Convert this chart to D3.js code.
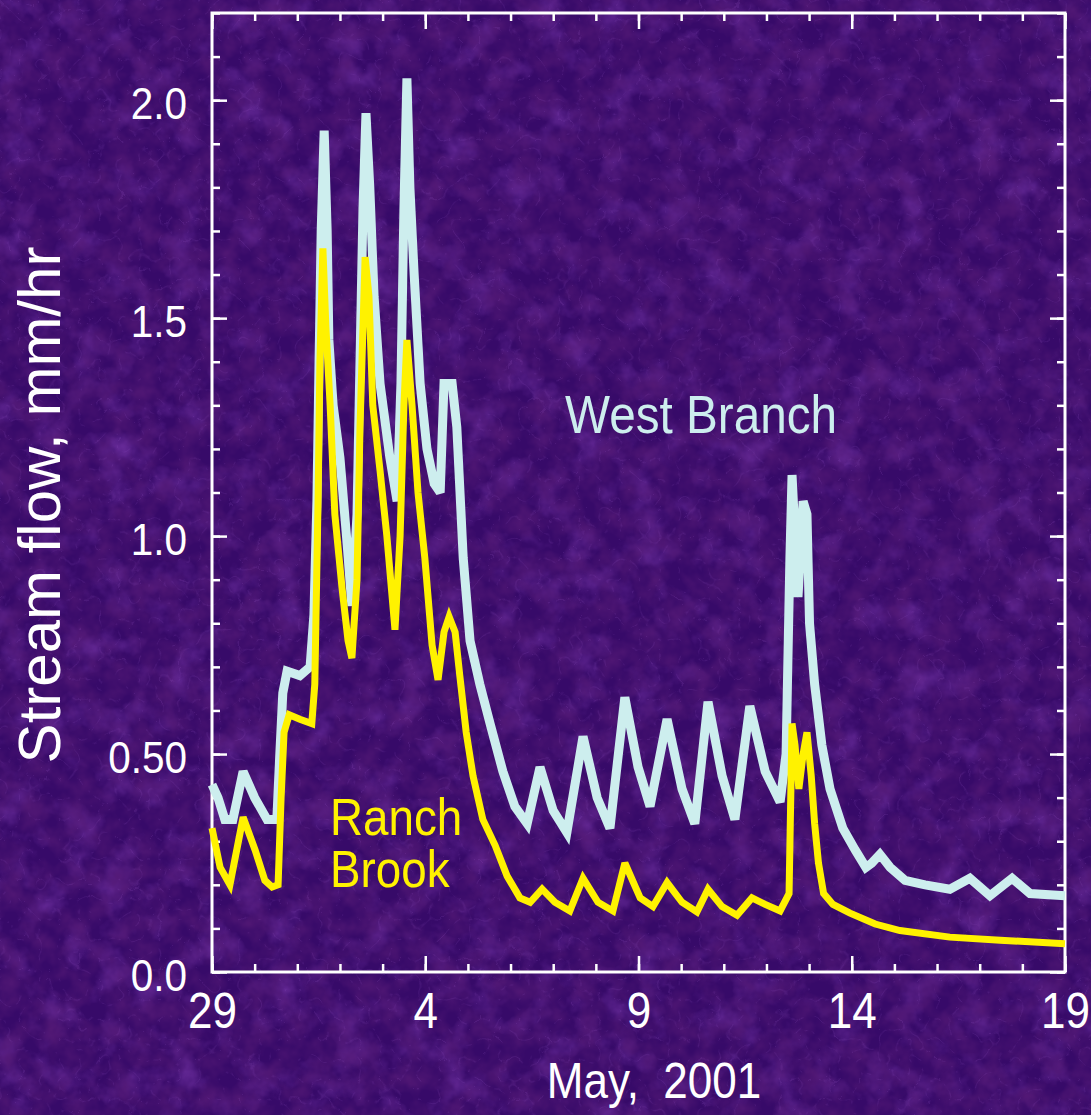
<!DOCTYPE html>
<html>
<head>
<meta charset="utf-8">
<script src="https://cdnjs.cloudflare.com/ajax/libs/d3/7.8.5/d3.min.js"></script>
<style>
  body { margin: 0; background: #350a66; }
  svg { display: block; }
  text { font-family: "Liberation Sans", Arial, Helvetica, sans-serif; }
</style>
</head>
<body>
<script>
// Values: days after 29 April 2001, stream flow in mm/hr
const westDays = [0, 0.14, 0.30, 0.49, 0.73, 1.0, 1.29, 1.52, 1.59, 1.66, 1.76, 2.06, 2.30, 2.39, 2.46, 2.51, 2.56, 2.63,
  2.70, 2.74, 2.84, 3.00, 3.17, 3.28, 3.40, 3.47, 3.54, 3.61, 3.70, 3.80, 3.94, 4.17, 4.34, 4.43, 4.50, 4.57,
  4.64, 4.74, 4.88, 5.04, 5.21, 5.35, 5.44, 5.63, 5.74, 5.89, 6.05, 6.28, 6.52, 6.82, 7.10, 7.39, 7.69, 8.00,
  8.32, 8.70, 9.03, 9.33, 9.68, 9.99, 10.27, 10.67, 11.02, 11.32, 11.63, 11.96, 12.26, 12.61, 12.97, 13.32,
  13.46, 13.55, 13.60, 13.67, 13.74, 13.86, 13.95, 14.01, 14.13, 14.30, 14.49, 14.79, 15.08, 15.33, 15.47,
  15.66, 15.90, 16.25, 16.72, 17.30, 17.77, 18.24, 18.76, 19.18, 20.0];
const westFlow = [0.43, 0.40, 0.35, 0.35, 0.46, 0.40, 0.35, 0.35, 0.50, 0.64, 0.69, 0.68, 0.70, 0.82, 1.08, 1.40, 1.70, 1.93,
  1.70, 1.45, 1.30, 1.18, 0.98, 0.84, 1.05, 1.40, 1.75, 1.97, 1.80, 1.55, 1.35, 1.18, 1.08, 1.35, 1.75, 2.05,
  1.80, 1.60, 1.35, 1.20, 1.12, 1.10, 1.35, 1.35, 1.25, 0.95, 0.76, 0.66, 0.57, 0.46, 0.38, 0.34, 0.47, 0.37,
  0.32, 0.54, 0.40, 0.33, 0.63, 0.47, 0.38, 0.58, 0.42, 0.34, 0.62, 0.45, 0.35, 0.61, 0.46, 0.39,
  0.50, 0.95, 1.14, 1.00, 0.86, 1.08, 1.05, 0.80, 0.66, 0.52, 0.42, 0.33, 0.28, 0.24, 0.25,
  0.27, 0.24, 0.21, 0.20, 0.19, 0.215, 0.175, 0.215, 0.18, 0.175];

const ranchDays = [0, 0.19, 0.42, 0.73, 1.01, 1.24, 1.41, 1.55, 1.62, 1.69, 1.81, 2.06, 2.34, 2.41, 2.49, 2.53, 2.60,
  2.67, 2.77, 2.88, 3.05, 3.19, 3.28, 3.40, 3.47, 3.59, 3.68, 3.77, 3.94, 4.10, 4.29, 4.41, 4.50, 4.57, 4.69,
  4.83, 4.99, 5.16, 5.30, 5.44, 5.56, 5.70, 5.81, 5.96, 6.12, 6.35, 6.64, 6.92, 7.22, 7.46, 7.74, 8.04, 8.39,
  8.70, 9.05, 9.40, 9.68, 10.04, 10.34, 10.67, 11.02, 11.37, 11.63, 11.96, 12.31, 12.66, 12.97, 13.32, 13.53,
  13.60, 13.67, 13.76, 13.86, 13.95, 14.05, 14.13, 14.22, 14.34, 14.56, 14.96, 15.55, 16.13, 17.30, 18.48, 20.0];
const ranchFlow = [0.33, 0.24, 0.20, 0.355, 0.28, 0.21, 0.195, 0.20, 0.40, 0.55, 0.59, 0.58, 0.57, 0.66, 1.10, 1.40, 1.66,
  1.48, 1.30, 1.05, 0.88, 0.76, 0.72, 0.90, 1.25, 1.64, 1.55, 1.30, 1.15, 1.00, 0.785, 1.00, 1.30, 1.45, 1.30,
  1.10, 0.95, 0.75, 0.67, 0.78, 0.815, 0.78, 0.68, 0.55, 0.45, 0.35, 0.29, 0.22, 0.17, 0.16, 0.19, 0.16, 0.14,
  0.215, 0.16, 0.14, 0.25, 0.17, 0.15, 0.205, 0.16, 0.138, 0.19, 0.15, 0.13, 0.17, 0.155, 0.14, 0.18,
  0.57, 0.52, 0.42, 0.50, 0.55, 0.45, 0.34, 0.25, 0.18, 0.155, 0.135, 0.11, 0.095, 0.08, 0.073, 0.065];

const dayTicks = [0, 5, 10, 15, 20];
const dayLabels = ['29', '4', '9', '14', '19'];
const flowTicks = [0, 0.5, 1.0, 1.5, 2.0];
const flowLabels = ['0.0', '0.50', '1.0', '1.5', '2.0'];

const width = 1091;
const height = 1115;
const plotLeft = 212, plotRight = 1065, plotTop = 13, plotBottom = 972;

const svg = d3.select('body').append('svg')
  .attr('width', width)
  .attr('height', height);

// mottled purple background, kept subtle
const defs = svg.append('defs');
const light = defs.append('filter').attr('id', 'texLight')
  .attr('x', 0).attr('y', 0).attr('width', '100%').attr('height', '100%');
light.append('feTurbulence')
  .attr('type', 'fractalNoise').attr('baseFrequency', 0.03)
  .attr('numOctaves', 4).attr('seed', 7);
light.append('feColorMatrix').attr('type', 'matrix')
  .attr('values', '0 0 0 0 0.34  0 0 0 0 0.08  0 0 0 0 0.62  1.0 0 0 0 -0.47');

const dark = defs.append('filter').attr('id', 'texDark')
  .attr('x', 0).attr('y', 0).attr('width', '100%').attr('height', '100%');
dark.append('feTurbulence')
  .attr('type', 'fractalNoise').attr('baseFrequency', 0.045)
  .attr('numOctaves', 3).attr('seed', 21);
dark.append('feColorMatrix').attr('type', 'matrix')
  .attr('values', '0 0 0 0 0.09  0 0 0 0 0.01  0 0 0 0 0.18  1.5 0 0 0 -0.50');

const veins = defs.append('filter').attr('id', 'texVeins')
  .attr('x', 0).attr('y', 0).attr('width', '100%').attr('height', '100%');
veins.append('feTurbulence')
  .attr('type', 'turbulence').attr('baseFrequency', 0.05)
  .attr('numOctaves', 2).attr('seed', 3);
veins.append('feColorMatrix').attr('type', 'matrix')
  .attr('values', '0 0 0 0 0.38  0 0 0 0 0.12  0 0 0 0 0.68  -1.5 0 0 0 0.13');

svg.append('rect').attr('width', width).attr('height', height).attr('fill', '#370a69');
svg.append('rect').attr('width', width).attr('height', height).attr('filter', 'url(#texLight)');
svg.append('rect').attr('width', width).attr('height', height).attr('filter', 'url(#texDark)');
svg.append('rect').attr('width', width).attr('height', height).attr('filter', 'url(#texVeins)');

const x = d3.scaleLinear().domain([0, 20]).range([plotLeft, plotRight]);
const y = d3.scaleLinear().domain([0, 2.2]).range([plotBottom, plotTop]);

// inward ticks on all four sides
const minorDays = d3.range(0, 21);
const minorFlow = d3.range(0, 2.21, 0.1);

const styleAxis = g => {
  g.select('.domain').remove();
  g.selectAll('.tick line').attr('stroke', '#fff').attr('stroke-width', 2.5);
};

svg.append('g').attr('transform', `translate(0,${plotBottom})`)
  .call(d3.axisBottom(x).tickValues(minorDays).tickSize(-8).tickFormat(''))
  .call(styleAxis);
svg.append('g').attr('transform', `translate(0,${plotTop})`)
  .call(d3.axisTop(x).tickValues(minorDays).tickSize(-8).tickFormat(''))
  .call(styleAxis);
svg.append('g').attr('transform', `translate(0,${plotTop})`)
  .call(d3.axisTop(x).tickValues(dayTicks).tickSize(-16).tickFormat(''))
  .call(styleAxis);
svg.append('g').attr('transform', `translate(${plotLeft},0)`)
  .call(d3.axisLeft(y).tickValues(minorFlow).tickSize(-8).tickFormat(''))
  .call(styleAxis);
svg.append('g').attr('transform', `translate(${plotRight},0)`)
  .call(d3.axisRight(y).tickValues(minorFlow).tickSize(-8).tickFormat(''))
  .call(styleAxis);
svg.append('g').attr('transform', `translate(${plotRight},0)`)
  .call(d3.axisRight(y).tickValues(flowTicks).tickSize(-15).tickFormat(''))
  .call(styleAxis);

const xAxisG = svg.append('g').attr('transform', `translate(0,${plotBottom})`)
  .call(d3.axisBottom(x).tickValues(dayTicks).tickSize(-16).tickFormat((d, i) => dayLabels[i]))
  .call(styleAxis);
xAxisG.selectAll('.tick text')
  .attr('y', 56).attr('dy', null)
  .attr('transform', 'scale(0.88,1)')
  .attr('fill', '#fff').attr('font-size', 50)
  .attr('font-family', '"Liberation Sans", Arial, sans-serif');

const yAxisG = svg.append('g').attr('transform', `translate(${plotLeft},0)`)
  .call(d3.axisLeft(y).tickValues(flowTicks).tickSize(-15).tickFormat((d, i) => flowLabels[i]))
  .call(styleAxis);
yAxisG.selectAll('.tick text')
  .attr('x', -25 / 0.9).attr('y', 18).attr('dy', null)
  .attr('transform', 'scale(0.9,1)')
  .attr('fill', '#fff').attr('font-size', 45)
  .attr('font-family', '"Liberation Sans", Arial, sans-serif');

// frame
svg.append('rect')
  .attr('x', plotLeft).attr('y', plotTop)
  .attr('width', plotRight - plotLeft).attr('height', plotBottom - plotTop)
  .attr('fill', 'none').attr('stroke', '#fff').attr('stroke-width', 3);

// series
const line = d3.line().x(d => x(d[0])).y(d => y(d[1]));

svg.append('path')
  .datum(d3.zip(westDays, westFlow))
  .attr('d', line)
  .attr('fill', 'none').attr('stroke', '#cdeeee')
  .attr('stroke-width', 9).attr('stroke-linejoin', 'miter').attr('stroke-miterlimit', 3);

svg.append('path')
  .datum(d3.zip(ranchDays, ranchFlow))
  .attr('d', line)
  .attr('fill', 'none').attr('stroke', '#fff200')
  .attr('stroke-width', 7).attr('stroke-linejoin', 'miter').attr('stroke-miterlimit', 3);

// labels
svg.append('text')
  .attr('transform', 'translate(565,433) scale(0.9,1)')
  .attr('fill', '#cdeeee').attr('font-size', 53)
  .text('West Branch');

svg.append('text')
  .attr('transform', 'translate(330,835) scale(0.88,1)')
  .attr('fill', '#fff200').attr('font-size', 52)
  .text('Ranch');
svg.append('text')
  .attr('transform', 'translate(330,887) scale(0.88,1)')
  .attr('fill', '#fff200').attr('font-size', 52)
  .text('Brook');

svg.append('text')
  .attr('transform', 'translate(654,1098) scale(0.88,1)')
  .attr('text-anchor', 'middle')
  .attr('fill', '#fff').attr('font-size', 50)
  .text('May,\u00a0 2001');

svg.append('text')
  .attr('transform', 'translate(60,505) rotate(-90)')
  .attr('text-anchor', 'middle')
  .attr('fill', '#fff').attr('font-size', 60)
  .text('Stream flow, mm/hr');
</script>
</body>
</html>
